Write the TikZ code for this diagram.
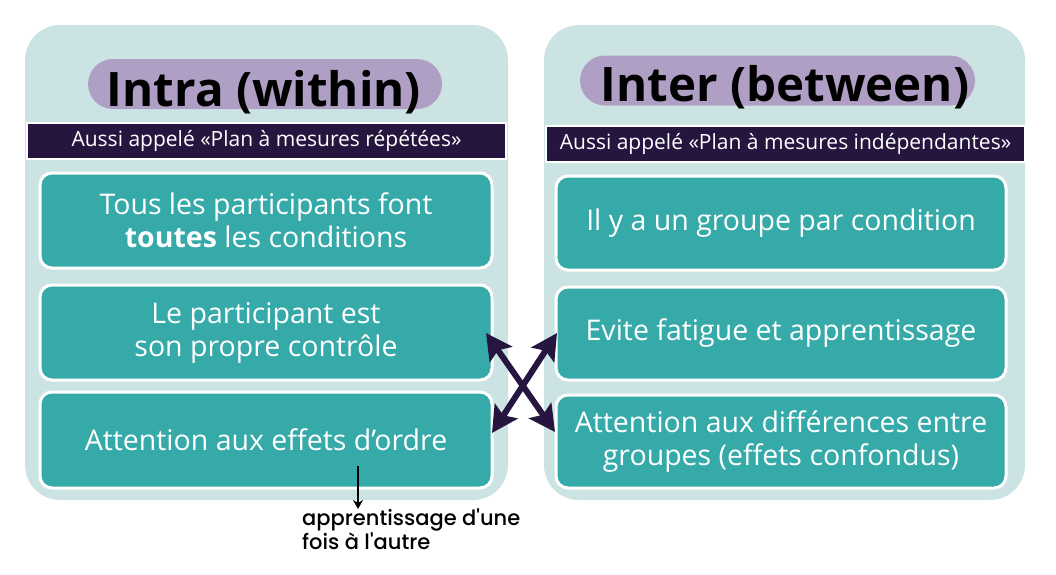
\documentclass[tikz,border=0pt]{standalone}
\usepackage{fontspec}
\setmainfont{Open Sans}
\newfontfamily\handfont{Poppins Medium}
\usetikzlibrary{arrows.meta}
\definecolor{panelbg}{HTML}{CCE3E3}
\definecolor{itemteal}{HTML}{36A9A9}
\definecolor{pillmauve}{HTML}{B09FC4}
\definecolor{banddark}{HTML}{26163F}
\begin{document}
\begin{tikzpicture}[x=1pt,y=-1pt]
	 \tikzstyle{panel}=[fill=panelbg,rounded corners=35pt,inner sep=0pt]
	 \tikzstyle{title pill}=[fill=pillmauve,rounded corners=25pt,minimum height=50pt,inner sep=0pt]
	 \tikzstyle{title text}=[anchor=base,font=\fontsize{47.5}{52}\selectfont\bfseries,inner sep=0pt]
	 \tikzstyle{band}=[fill=banddark,draw=white,line width=2pt,minimum height=36pt,inner sep=0pt,text=white,font=\fontsize{21}{24}\selectfont]
	 \tikzstyle{item}=[fill=itemteal,draw=white,line width=3pt,rounded corners=12pt,inner sep=0pt,text=white,align=center,font=\fontsize{28.5}{33}\selectfont]
	 \tikzstyle{cross arrow}=[draw,line width=6pt,banddark,{Stealth[length=26pt,width=27pt,inset=5pt]}-{Stealth[length=26pt,width=27pt,inset=5pt]}]
	 \tikzstyle{hand arrow}=[draw,line width=2.4pt,black,-{Stealth[length=9pt,width=10pt]}]
	 \tikzstyle{note}=[inner sep=0pt,align=left,font=\handfont\fontsize{21}{22}\selectfont]
	 \useasboundingbox (0,0) rectangle (1056,574);
	 % panels
	 \node[panel,minimum width=483pt,minimum height=475pt] (intra) at (266.5,262.5) {};
	 \node[panel,minimum width=481pt,minimum height=475pt] (inter) at (784.5,262.5) {};
	 % titles
	 \node[title pill,minimum width=354pt] (intraPill) at (265,84) {};
	 \node[title pill,minimum width=395pt] (interPill) at (777.5,80.5) {};
	 \node[title text] (intraTitle) at (264,106) {Intra (within)};
	 \node[title text] (interTitle) at (785,101) {Inter (between)};
	 \node[band,minimum width=479pt] (intraBand) at (266.5,140.5) {Aussi appelé «Plan à mesures répétées»};
	 \node[band,minimum width=479pt] (interBand) at (785.5,143.5) {Aussi appelé «Plan à mesures indépendantes»};
	 % left column
	 \node[item,minimum width=452pt,minimum height=95pt] (intra1) at (266,220.5) {Tous les participants font\\\textbf{toutes} les conditions};
	 \node[item,minimum width=452pt,minimum height=95pt] (intra2) at (266,332.5) {Le participant est\\son propre contrôle};
	 \node[item,minimum width=452pt,minimum height=96pt] (intra3) at (266,440) {Attention aux effets d’ordre};
	 % right column
	 \node[item,minimum width=450pt,minimum height=94pt] (inter1) at (781,223) {Il y a un groupe par condition};
	 \node[item,minimum width=450pt,minimum height=93pt] (inter2) at (781,333.5) {Evite fatigue et apprentissage};
	 \node[item,minimum width=450pt,minimum height=93pt] (inter3) at (781,441.5) {Attention aux différences entre\\groupes (effets confondus)};
	 % crossing arrows
	 \coordinate (crossTL) at (486,333);
	 \coordinate (crossBR) at (555,432);
	 \coordinate (crossTR) at (557,333);
	 \coordinate (crossBL) at (492,433);
	 \draw[cross arrow] (crossTL) -- (crossBR);
	 \draw[cross arrow] (crossTR) -- (crossBL);
	 % handwritten note
	 \coordinate (noteStart) at (358,466);
	 \node[note,anchor=north west] (note) at (302,509) {apprentissage d'une\\fois à l'autre};
	 \draw[hand arrow] (noteStart) -- (noteStart |- note.north);
 \end{tikzpicture}
\end{document}
